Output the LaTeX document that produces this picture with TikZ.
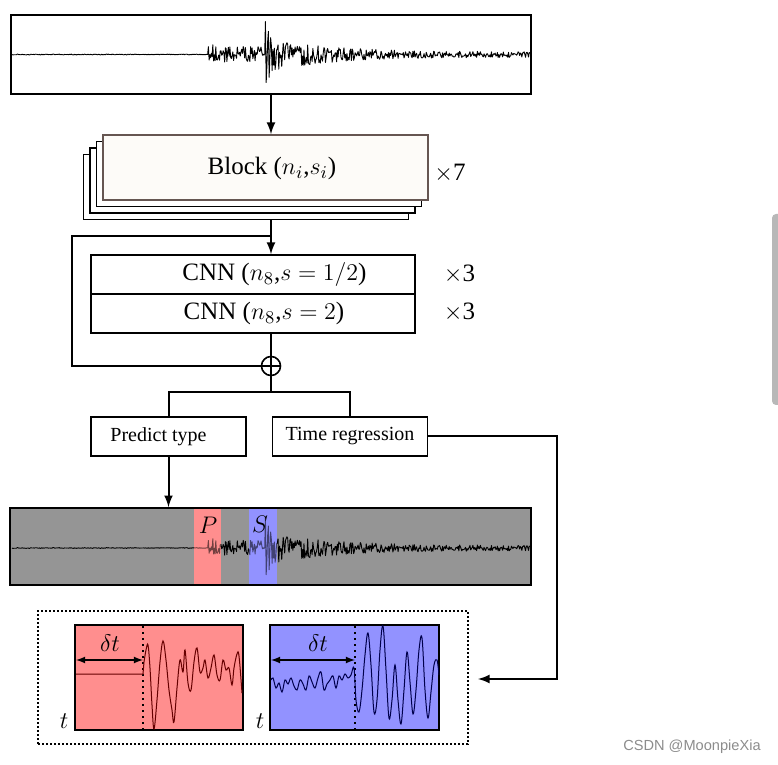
\documentclass[tikz,border=0pt]{standalone}
\usepackage{fontspec}
\setmainfont{Liberation Serif}
\newfontfamily\wmfont{Liberation Sans}

\definecolor{pband}{HTML}{FF8E8E}
\definecolor{sband}{HTML}{9292FF}
\definecolor{grayfill}{HTML}{959595}
\definecolor{blockedge}{HTML}{665652}
\definecolor{blockfill}{HTML}{FDFBF8}
\definecolor{wmgray}{HTML}{8C8C8C}
\definecolor{scrollgray}{HTML}{B8B8B8}

\tikzset{
  box/.style={draw, line width=0.9pt, fill=white, inner sep=0pt},
  blkbox/.style={box, minimum width=162.5pt, minimum height=32.5pt},
  cnnbox/.style={box, minimum width=162pt, minimum height=19.5pt},
  headbox/.style={box, minimum width=77.5pt, minimum height=19.5pt},
  bigtext/.style={font=\fontsize{12.5}{15}\selectfont},
  smalltext/.style={font=\fontsize{10}{12}\selectfont},
  link/.style={line width=1pt},
  seis/.style={line width=0.45pt, line join=round},
}

\begin{document}
\begin{tikzpicture}[x=0.5pt, y=-0.5pt, >=latex,
  declare function={env(\t)=(\t<208)?0.4:((\t<213)?11:((\t<265)?8:((\t<300)?26*exp(-max(\t-265,0)/10)+9:9*exp(-max(\t-300,0)/55)+2.8)));}]

      \useasboundingbox (0,0) rectangle (778,765);

      % input trace
      \node[box, minimum width=260pt, minimum height=39.5pt] (wave) at (271,54.5) {};
      \pgfmathsetseed{41}
      \draw[seis] plot[domain=12:530, samples=700] (\x,{54.5+env(\x)*rand});

      % blocks
      \foreach \k in {3,2,1}
        \node[blkbox] (blk\k) at ({265.5-6.5*\k},{167.5+6.5*\k}) {};
      \node[blkbox, draw=blockedge, fill=blockfill] (blk0) at (265.5,167.5) {};
      \node[bigtext] (blktext) at (272,168.5) {Block ($n_i$,$s_i$)};
      \node[bigtext] (rep7) at (450,173) {$\times$7};
      \draw[link,->] (wave.south) -- (wave.south |- blk0.north);

      % cnn part with skip
      \node[cnnbox] (cnna) at (253,274.5) {};
      \node[cnnbox] (cnnb) at (253,313.5) {};
      \node[bigtext] (cnnatext) at (274.5,274.5) {CNN ($n_8$,$s = 1/2$)};
      \node[bigtext] (cnnbtext) at (264,313.5) {CNN ($n_8$,$s = 2$)};
      \node[bigtext] (rep3a) at (459.5,274) {$\times$3};
      \node[bigtext] (rep3b) at (459.5,312) {$\times$3};
      \node[draw, circle, line width=0.8pt, minimum size=9.5pt, inner sep=0pt,
            path picture={\draw[line width=0.8pt] (path picture bounding box.north) -- (path picture bounding box.south)
                                (path picture bounding box.west) -- (path picture bounding box.east);}] (sum) at (271,366) {};
      \coordinate (skip) at (271,236);
      \coordinate (skipl) at (72,236);
      \draw[link,->] (wave.south |- blk3.south) -- (wave.south |- cnna.north);
      \draw[link] (skip) -- (skipl) |- (sum);
      \draw[link] (cnnb.south -| sum) -- (sum);

      % heads
      \coordinate (split) at (271,392);
      \node[headbox] (pred) at (168.5,436.5) {};
      \node[smalltext] (predtext) at (158.5,436.5) {Predict type};
      \node[headbox, smalltext] (treg) at (350,436.5) {Time regression};
      \draw[link] (sum) -- (split);
      \draw[link] (pred.north) |- (split) -| (treg.north);

      % picked trace
      \node[box, fill=grayfill, minimum width=260.5pt, minimum height=38.5pt] (out) at (270.5,546.5) {};
      \draw[link,->] (pred.south) -- (pred.south |- out.north);
      \fill[pband] (194,509) rectangle (221,584);
      \fill[sband] (249,509) rectangle (277,584);
      \pgfmathsetseed{41}
      \draw[seis] plot[domain=12:530, samples=700] (\x,{548+0.95*env(\x)*rand});
      \fill[pband, fill opacity=0.45] (194,509) rectangle (221,584);
      \fill[sband, fill opacity=0.45] (249,509) rectangle (277,584);
      \node[font=\fontsize{12}{14}\selectfont] (plabel) at (208,525) {$P$};
      \node[font=\fontsize{12}{14}\selectfont] (slabel) at (260,524) {$S$};

      % zoomed windows
      \node[draw, line width=1pt, dash pattern=on 1pt off 1pt, minimum width=215pt, minimum height=66.5pt, inner sep=0pt] (regbox) at (253,677.5) {};
      \node[box, fill=pband, minimum width=84pt, minimum height=52.5pt] (rpan) at (159,677.5) {};
      \node[box, fill=sband, minimum width=84.5pt, minimum height=52.5pt] (bpan) at (354.5,677.5) {};
      \draw[line width=1pt, dotted] (143,626) -- (143,729);
      \draw[line width=1pt, dotted] (355,626) -- (355,729);
      \draw[line width=0.5pt, red!40!black] (76,674) -- (143,674) -- plot[smooth, tension=0.6] coordinates {
        (144,662) (146,650) (148,645) (150,668) (152,705) (154,729) (157,700) (160,662) (163,641)
        (166,660) (169,690) (172,710) (174,722) (177,688) (180,660) (183,672) (185,650) (188,683)
        (191,690) (194,662) (197,648) (200,672) (203,668) (205,660) (208,678) (211,668) (214,655)
        (217,675) (220,680) (223,660) (226,670) (229,668) (232,685) (234,668) (237,654) (239,656) (242,693)};
      \draw[line width=0.5pt, blue!30!black] plot[smooth, tension=0.6] coordinates {
        (271,680) (273,678) (276,688) (279,683) (282,692) (285,680) (288,684) (291,678) (294,686)
        (297,690) (300,680) (303,684) (306,690) (309,676) (312,682) (315,688) (318,678) (321,672)
        (324,690) (327,684) (330,680) (333,676) (336,688) (339,676) (342,680) (345,674) (348,678)
        (351,675) (354,668) (356,700) (359,712) (362,690) (365,655) (368,633) (371,665) (374,712)
        (377,700) (380,650) (383,626) (386,670) (389,718) (392,700) (395,665) (398,700) (401,724)
        (404,690) (407,652) (410,682) (413,714) (416,690) (419,650) (422,638) (425,690) (428,718)
        (431,692) (434,665) (437,660) (439,675)};
      \draw[<->, line width=0.6pt] (76,660) -- (143,660);
      \draw[<->, line width=0.6pt] (271,660) -- (355,660);
      \node[font=\fontsize{13}{15}\selectfont] (dtr) at (110,643) {$\delta t$};
      \node[font=\fontsize{13}{15}\selectfont] (dtb) at (318,643) {$\delta t$};
      \node[font=\fontsize{12}{14}\selectfont] (tr) at (64,721) {$t$};
      \node[font=\fontsize{12}{14}\selectfont] (tb) at (260,721) {$t$};

      % regression output
      \coordinate (rcorner) at (557,679);
      \coordinate (rin) at (478,679);
      \draw[link,->] (treg.east) -| (rcorner) -- (rin);

      % page leftovers
      \node[text=wmgray, font=\wmfont\fontsize{7.3}{9}\selectfont] (wm) at (692,747) {CSDN @MoonpieXia};
      \fill[scrollgray, rounded corners=2pt] (772,214) rectangle (782,405);
    \end{tikzpicture}
\end{document}
